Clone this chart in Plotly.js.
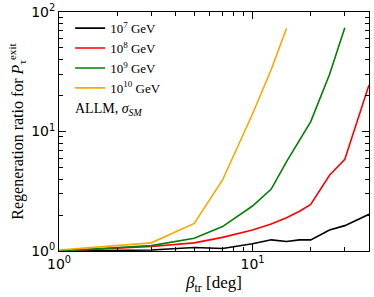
<!DOCTYPE html>
<html><head><meta charset="utf-8">
<script src="https://cdn.plot.ly/plotly-3.0.1.min.js"></script>
<style>html,body{margin:0;padding:0;background:#fff}#chart{width:374px;height:297px}</style>
</head><body><div id="chart"></div>
<script>
const beta = [1, 3, 5, 7, 10, 12.5, 15, 17.5, 20, 25, 30, 35, 40];
const e7  = [1.0, 1.02, 1.07, 1.05, 1.15, 1.24, 1.20, 1.24, 1.24, 1.50, 1.63, 1.82, 2.03];
const e8  = [1.0, 1.09, 1.17, 1.30, 1.50, 1.68, 1.90, 2.15, 2.45, 4.3, 5.85, 12.9, 24.5];
const e9  = [1.0, 1.11, 1.28, 1.60, 2.38, 3.3, 5.6, 8.5, 12.1, 30, 74];
const e10 = [1.02, 1.17, 1.70, 3.93, 14, 33, 73];
const names = ['10<sup>7</sup> GeV', '10<sup>8</sup> GeV', '10<sup>9</sup> GeV', '10<sup>10</sup> GeV'];
const colors = ['#000000', '#ff0000', '#008000', '#ffa500'];
const series = [e7, e8, e9, e10];

const traces = series.map((v, i) => ({
  x: beta.slice(0, v.length), y: v, mode: 'lines', name: names[i],
  line: {color: colors[i], width: 1.6}
}));

const serif = 'Liberation Serif, DejaVu Serif, serif';
const sans = 'DejaVu Sans, sans-serif';
const axisCommon = {
  type: 'log', showline: true, linecolor: '#000', linewidth: 1, mirror: 'allticks',
  ticks: 'inside', ticklen: 7, tickwidth: 1, tickcolor: '#000', showgrid: false, zeroline: false,
  tickfont: {family: sans, size: 14, color: '#000'}
};
const layout = {
  width: 374, height: 297,
  margin: {l: 59, r: 5, t: 12, b: 46},
  paper_bgcolor: '#fff', plot_bgcolor: '#fff',
  showlegend: true,
  legend: {x: 0.036, y: 0.995, xanchor: 'left', yanchor: 'top', bgcolor: 'rgba(0,0,0,0)',
           font: {family: serif, size: 13, color: '#000'}, tracegroupgap: 0},
  xaxis: Object.assign({}, axisCommon, {
    range: [0, Math.log10(40)], tickmode: 'array', tickvals: [1, 10],
    ticktext: ['10<sup>0</sup>', '10<sup>1</sup>'],
    minor: {tickmode: 'array', tickvals: [2,3,4,5,6,7,8,9,20,30,40], ticks: 'inside', ticklen: 4, tickcolor: '#000', showgrid: false},
    title: {text: '<i>β</i><sub>tr</sub> [deg]', font: {family: serif, size: 17, color: '#000'}, standoff: 5}
  }),
  yaxis: Object.assign({}, axisCommon, {
    range: [0, 2], tickmode: 'array', tickvals: [1, 10, 100],
    ticktext: ['10<sup>0</sup>', '10<sup>1</sup>', '10<sup>2</sup>'],
    minor: {tickmode: 'array', tickvals: [2,3,4,5,6,7,8,9,20,30,40,50,60,70,80,90], ticks: 'inside', ticklen: 4, tickcolor: '#000', showgrid: false},
    title: {text: 'Regeneration ratio for <i>P</i><sub>τ</sub><sup>exit</sup>', font: {family: serif, size: 16, color: '#000'}, standoff: 3}
  }),
  annotations: [{
    xref: 'paper', yref: 'paper', x: 0.045, y: 0.59, xanchor: 'left', yanchor: 'middle', showarrow: false,
    text: 'ALLM, <i>σ</i><sub><i>SM</i></sub>', font: {family: serif, size: 14, color: '#000'}
  }]
};
Plotly.newPlot('chart', traces, layout, {displayModeBar: false, staticPlot: true});
</script></body></html>
